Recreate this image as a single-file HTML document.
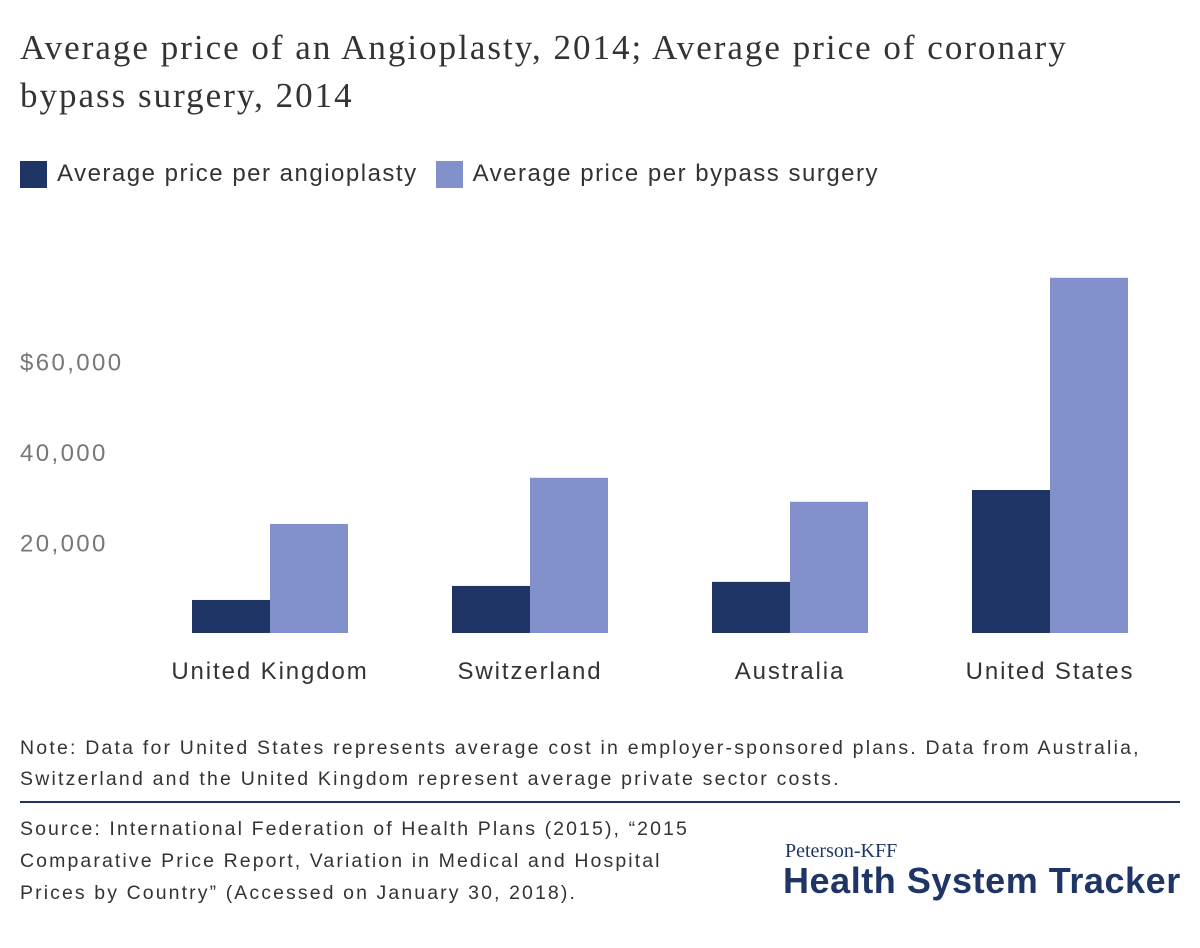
<!DOCTYPE html>
<html><head><meta charset="utf-8"><style>
body{margin:0;width:1200px;height:948px;background:#fff;font-family:"Liberation Sans",sans-serif;position:relative;overflow:hidden}
.t{position:absolute;margin:0}
</style></head><body>
<h1 class="t" style="left:20px;top:24px;font-family:'Liberation Serif',serif;font-weight:normal;font-size:35px;letter-spacing:2px;line-height:48px;color:#333;width:1110px">Average price of an Angioplasty, 2014; Average price of coronary bypass surgery, 2014</h1>
<div class="t" style="left:20px;top:160px;font-size:24px;letter-spacing:1.5px;color:#333;display:flex;align-items:center">
<span style="width:27px;height:27px;background:#1f3566;display:inline-block;margin-right:10px"></span><span style="margin-right:18px">Average price per angioplasty</span>
<span style="width:27px;height:27px;background:#8290cb;display:inline-block;margin-right:10px"></span><span>Average price per bypass surgery</span>
</div>
<svg id="chart" width="1200" height="720" style="position:absolute;left:0;top:0"></svg>
<div class="t" style="left:20px;top:733px;font-size:19.5px;letter-spacing:2.2px;line-height:31px;color:#333;width:1175px">Note: Data for United States represents average cost in employer-sponsored plans. Data from Australia, Switzerland and the United Kingdom represent average private sector costs.</div>
<div class="t" style="left:20px;top:801px;width:1160px;height:2px;background:#1f3566"></div>
<div class="t" style="left:20px;top:813px;font-size:19.5px;letter-spacing:2.1px;line-height:32px;color:#333;width:700px">Source: International Federation of Health Plans (2015), “2015 Comparative Price Report, Variation in Medical and Hospital Prices by Country” (Accessed on January 30, 2018).</div>
<div class="t" style="left:785px;top:840px;font-family:'Liberation Serif',serif;font-size:20px;color:#1f3566">Peterson-KFF</div>
<div class="t" style="left:783px;top:860px;font-size:36px;font-weight:bold;color:#1f3566;letter-spacing:0.55px">Health System Tracker</div>
<script>
const categories=["United Kingdom","Switzerland","Australia","United States"];
const angioplasty=[7300,10400,11300,31600];
const bypass=[24100,34300,29000,78500];
const tickValues=[20000,40000,60000];
const tickLabels=["20,000","40,000","$60,000"];
const svg=document.getElementById('chart');
const NS="http://www.w3.org/2000/svg";
const y=v=>633-v*0.004525;
const gx=i=>270+i*260;
const bw=78;
function mk(tag,attrs){const e=document.createElementNS(NS,tag);for(const k in attrs)e.setAttribute(k,attrs[k]);svg.appendChild(e);return e;}
tickValues.forEach((v,i)=>{
 const t=mk('text',{x:20,y:y(v)+9,'font-size':24,'letter-spacing':2.4,fill:'#777','font-family':'Liberation Sans, sans-serif'});
 t.textContent=tickLabels[i];
 
 
});
categories.forEach((c,i)=>{
 const a=mk('rect',{x:gx(i)-bw,y:y(angioplasty[i]),width:bw,height:y(0)-y(angioplasty[i]),fill:'#1f3566'});
 
 
 const b=mk('rect',{x:gx(i),y:y(bypass[i]),width:bw,height:y(0)-y(bypass[i]),fill:'#8290cb'});
 
 
 const t=mk('text',{x:gx(i),y:679,'font-size':24,'letter-spacing':1.9,fill:'#333','text-anchor':'middle','font-family':'Liberation Sans, sans-serif'});
 t.textContent=c;
 
 
});
</script>
</body></html>
